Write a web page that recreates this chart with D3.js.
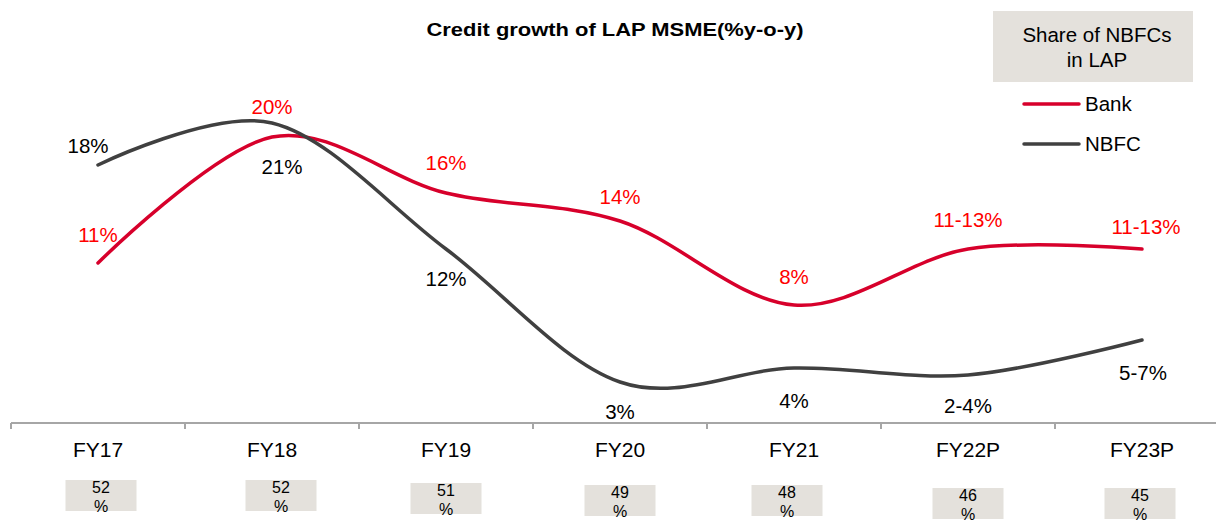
<!DOCTYPE html>
<html lang="en">
<head>
<meta charset="UTF-8">
<title>Credit growth of LAP MSME</title>
<style>
body { margin: 0; background: #fff; }
svg { display: block; font-family: "Liberation Sans", Arial, sans-serif; }
.axis path, .axis line { fill: none; stroke: #a6a6a6; stroke-width: 2; shape-rendering: crispEdges; }
.axis text { font-size: 21px; fill: #000; }
</style>
</head>
<body>
<script src="https://cdn.jsdelivr.net/npm/d3@7"></script>
<script>
var categories = ['FY17', 'FY18', 'FY19', 'FY20', 'FY21', 'FY22P', 'FY23P'];
var bankValues = [11, 20, 16, 14, 8, 12, 12];
var nbfcValues = [18, 21, 12, 2.5, 3.5, 3, 5.5];
var bankLabels = ['11%', '20%', '16%', '14%', '8%', '11-13%', '11-13%'];
var nbfcLabels = ['18%', '21%', '12%', '3%', '4%', '2-4%', '5-7%'];
var nbfcShare = ['52', '52', '51', '49', '48', '46', '45'];

var width = 1216, height = 522;
var bankColor = '#d7002b', nbfcColor = '#404040', boxFill = '#e4e1dc';

var svg = d3.select('body').append('svg').attr('width', width).attr('height', height);

var x = d3.scaleBand().domain(categories).range([11, 1229]);
var y = d3.scaleLinear().domain([0, 25]).range([417, 67]);
var cx = function (d) { return x(d) + x.bandwidth() / 2; };

// title
svg.append('text').attr('x', 615).attr('y', 36).attr('text-anchor', 'middle')
    .attr('font-size', 18).attr('font-weight', 'bold')
    .attr('textLength', 377).attr('lengthAdjust', 'spacingAndGlyphs')
    .text('Credit growth of LAP MSME(%y-o-y)');

// x axis
var axisY = 423;
var xAxis = d3.axisBottom(x).tickSize(0).tickPadding(0);
var gx = svg.append('g').attr('class', 'axis').attr('transform', 'translate(0,' + axisY + ')').call(xAxis);
gx.select('.domain').attr('d', 'M11,0H' + width);
gx.selectAll('.tick text').attr('dy', 0).attr('y', 34);
gx.selectAll('.bound').data(categories).enter().append('line')
    .attr('x1', function (d) { return x(d); }).attr('x2', function (d) { return x(d); })
    .attr('y1', 0).attr('y2', 6);

// lines
var line = d3.line()
    .x(function (d, i) { return cx(categories[i]); })
    .y(function (d) { return y(d); })
    .curve(d3.curveCardinal.tension(0));

svg.append('path').attr('d', line(bankValues)).attr('fill', 'none')
    .attr('stroke', bankColor).attr('stroke-width', 3.5).attr('stroke-linecap', 'round');
svg.append('path').attr('d', line(nbfcValues)).attr('fill', 'none')
    .attr('stroke', nbfcColor).attr('stroke-width', 3.5).attr('stroke-linecap', 'round');

// data labels
var bankDy = [-21, -23, -23, -17, -21, -22, -15];
var nbfcDx = [-10, 10, 0, 0, 0, 0, 1];
var nbfcDy = [-12, 51, 37, 37, 40, 38, 40];

svg.selectAll('.lb').data(bankValues).enter().append('text')
    .attr('x', function (d, i) { return cx(categories[i]) + (i === 6 ? 4 : 0); })
    .attr('y', function (d, i) { return y(d) + bankDy[i]; })
    .attr('text-anchor', 'middle').attr('font-size', 20.5).attr('fill', '#ff0000')
    .text(function (d, i) { return bankLabels[i]; });

svg.selectAll('.ln').data(nbfcValues).enter().append('text')
    .attr('x', function (d, i) { return cx(categories[i]) + nbfcDx[i]; })
    .attr('y', function (d, i) { return y(d) + nbfcDy[i]; })
    .attr('text-anchor', 'middle').attr('font-size', 20.5).attr('fill', '#000')
    .text(function (d, i) { return nbfcLabels[i]; });

// share of NBFCs boxes
var boxDx = [3, 9, 0, 0, -7, 0, -2];
var boxTop = [480, 480, 483, 485, 485, 488, 488];
var boxes = svg.selectAll('.share').data(nbfcShare).enter().append('g')
    .attr('transform', function (d, i) { return 'translate(' + (cx(categories[i]) + boxDx[i]) + ',' + boxTop[i] + ')'; });
boxes.append('rect').attr('x', -35.5).attr('y', 0).attr('width', 71).attr('height', 31).attr('fill', boxFill);
boxes.append('text').attr('y', 13).attr('text-anchor', 'middle').attr('font-size', 16).text(function (d) { return d; });
boxes.append('text').attr('y', 31.5).attr('text-anchor', 'middle').attr('font-size', 16).text('%');

// legend
svg.append('rect').attr('x', 993).attr('y', 11).attr('width', 200).attr('height', 71).attr('fill', boxFill);
svg.append('text').attr('x', 1097).attr('y', 42).attr('text-anchor', 'middle').attr('font-size', 20.5).text('Share of NBFCs');
svg.append('text').attr('x', 1097).attr('y', 67).attr('text-anchor', 'middle').attr('font-size', 20.5).text('in LAP');

var legend = svg.selectAll('.leg').data([['Bank', bankColor], ['NBFC', nbfcColor]]).enter().append('g')
    .attr('transform', function (d, i) { return 'translate(1024,' + (104 + i * 40) + ')'; });
legend.append('line').attr('x1', 0).attr('x2', 55).attr('stroke', function (d) { return d[1]; })
    .attr('stroke-width', 3.5).attr('stroke-linecap', 'round');
legend.append('text').attr('x', 61).attr('y', 7).attr('font-size', 20.5).text(function (d) { return d[0]; });
</script>
</body>
</html>
